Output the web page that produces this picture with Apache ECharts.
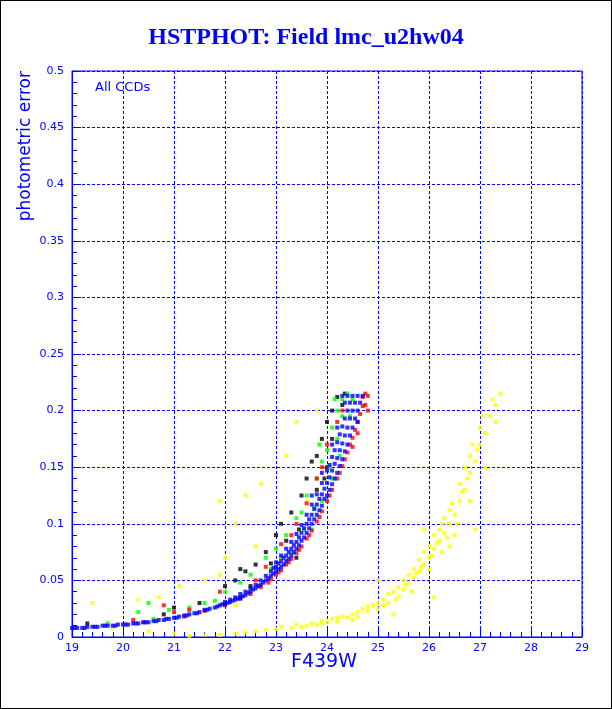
<!DOCTYPE html>
<html>
<head>
<meta charset="utf-8">
<script src="https://cdn.jsdelivr.net/npm/echarts@6/dist/echarts.min.js"></script>
<style>
  html, body { margin: 0; padding: 0; background: #fff; }
  #chart { width: 610px; height: 707px; border: 1px solid #000; }
</style>
</head>
<body>
<div id="chart"></div>
<script>
// Values: [F439W magnitude, photometric error]
const bluePoints = [
  [19.0,0.008],[19.1,0.008],[19.2,0.008],[19.3,0.009],[19.4,0.009],[19.5,0.009],[19.6,0.010],[19.7,0.010],
  [19.8,0.010],[19.9,0.011],[20.0,0.011],[20.1,0.011],[20.2,0.012],[20.3,0.012],[20.4,0.013],[20.5,0.013],
  [20.6,0.014],[20.7,0.015],[20.8,0.015],[20.9,0.016],[21.0,0.017],[21.1,0.018],[21.2,0.019],[21.3,0.020],
  [21.4,0.021],[21.5,0.022],[21.6,0.024],[21.7,0.025],[21.8,0.026],[21.9,0.028],[22.0,0.029],[22.0,0.031],
  [22.1,0.031],[22.1,0.033],[22.2,0.033],[22.2,0.035],[22.3,0.035],[22.3,0.038],[22.4,0.037],[22.4,0.040],
  [22.5,0.040],[22.5,0.043],[22.6,0.043],[22.6,0.046],[22.7,0.046],[22.7,0.050],[22.8,0.050],[22.8,0.054],
  [22.9,0.054],[22.9,0.058],[23.0,0.058],[23.0,0.062],[23.0,0.066],[23.1,0.062],[23.1,0.067],[23.1,0.072],
  [23.2,0.067],[23.2,0.072],[23.2,0.078],[23.3,0.072],[23.3,0.078],[23.3,0.084],[23.4,0.078],[23.4,0.084],
  [23.4,0.091],[23.5,0.085],[23.5,0.092],[23.5,0.099],[23.6,0.092],[23.6,0.100],[23.6,0.108],[23.7,0.100],
  [23.7,0.108],[23.7,0.117],[23.8,0.108],[23.8,0.117],[23.8,0.126],[23.9,0.116],[23.9,0.126],[23.9,0.136],
  [24.0,0.125],[24.0,0.136],[24.0,0.147],[24.1,0.135],[24.1,0.147],[24.1,0.159],[24.2,0.145],[24.2,0.158],
  [24.2,0.172],[24.3,0.157],[24.3,0.171],[24.3,0.186],[24.4,0.170],[24.4,0.185],[24.4,0.200],[24.4,0.213],
  [24.5,0.185],[24.5,0.200],[24.5,0.213],[24.6,0.200],[24.6,0.213],[24.65,0.207],[22.3,0.034],[23.95,0.122],
  [19.05,0.008],[19.25,0.008],[19.45,0.009],[19.65,0.010],[19.85,0.010],[20.05,0.011],[20.25,0.012],[20.45,0.013],
  [20.65,0.014],[20.85,0.016],[21.05,0.017],[21.25,0.019],[21.45,0.021],[21.65,0.024],[21.85,0.027],[21.95,0.029],
  [22.05,0.030],[22.15,0.032],[22.25,0.034],[22.35,0.036],[22.45,0.039],[22.55,0.042],[22.65,0.045],[22.75,0.048],
  [22.85,0.052],[22.95,0.056],[22.95,0.061],[23.05,0.060],[23.05,0.065],[23.15,0.064],[23.15,0.070],[23.25,0.069],
  [23.25,0.075],[23.35,0.075],[23.35,0.081],[23.45,0.081],[23.45,0.088],[23.55,0.088],[23.55,0.096],[23.65,0.096],
  [23.65,0.104],[23.75,0.104],[23.75,0.113],[23.85,0.112],[23.85,0.122],[23.95,0.131],[24.05,0.130],[24.05,0.141],
  [24.05,0.152],[24.15,0.140],[24.15,0.153],[24.15,0.165],[24.25,0.151],[24.25,0.165],[24.25,0.179],[24.35,0.164],
  [24.35,0.178],[24.35,0.193],[24.35,0.207],[24.45,0.178],[24.45,0.193],[24.45,0.207],[24.55,0.193],[24.55,0.207],
  [24.6,0.190],[24.7,0.213],[24.3,0.213],[24.2,0.185],[24.1,0.170],[23.9,0.145],[23.7,0.125]
];

const redPoints = [
  [20.4,0.013],[21.2,0.018],[21.6,0.023],[22.0,0.028],[22.3,0.034],[22.5,0.038],[22.7,0.044],[22.9,0.051],
  [23.0,0.055],[23.1,0.059],[23.2,0.064],[23.3,0.069],[23.4,0.074],[23.5,0.080],[23.6,0.087],[23.7,0.094],
  [23.8,0.102],[23.9,0.111],[24.0,0.120],[24.1,0.130],[24.2,0.140],[24.3,0.151],[24.4,0.163],[24.5,0.176],
  [24.6,0.190],[24.7,0.204],[24.75,0.215],[24.8,0.213],[24.7,0.212],[24.6,0.180],[24.5,0.168],[24.35,0.157],
  [20.8,0.028],[21.3,0.024],[21.9,0.040],[22.6,0.050],[23.1,0.082],[23.4,0.100],[23.8,0.140],[24.2,0.190],
  [24.0,0.170],[23.6,0.118],[23.3,0.090],[22.8,0.062],[24.3,0.200],[23.9,0.150],
  [22.85,0.048],[23.05,0.057],[23.25,0.066],[23.45,0.077],[23.65,0.090],[23.85,0.106],[24.05,0.125],[24.25,0.145],
  [24.45,0.170],[24.65,0.197],[24.55,0.183],[24.75,0.205],[24.8,0.200],[21.0,0.022],[20.2,0.015]
];

const greenPoints = [
  [19.7,0.012],[20.3,0.022],[20.5,0.030],[20.9,0.024],[21.3,0.026],[21.6,0.030],[22.0,0.040],[22.3,0.048],
  [22.5,0.055],[22.8,0.070],[23.0,0.078],[23.2,0.090],[23.3,0.075],[23.5,0.110],[23.6,0.125],[23.7,0.095],
  [23.8,0.140],[23.9,0.155],[24.0,0.165],[24.1,0.185],[24.1,0.140],[24.2,0.200],[24.3,0.210],[24.4,0.215],
  [24.5,0.210],[23.4,0.105],[23.9,0.120],[24.2,0.175],[22.9,0.060],[24.3,0.195],[20.6,0.016],[21.8,0.032],
  [23.1,0.070],[23.55,0.095],[23.75,0.115],[24.05,0.150],[24.25,0.160],[24.45,0.195],[24.15,0.210],[23.85,0.170]
];

const blackPoints = [
  [19.3,0.012],[20.8,0.020],[21.0,0.026],[21.5,0.030],[22.0,0.045],[22.2,0.050],[22.4,0.058],[22.6,0.064],
  [22.8,0.075],[23.0,0.090],[23.1,0.100],[23.3,0.110],[23.5,0.125],[23.6,0.140],[23.7,0.155],[23.8,0.160],
  [23.9,0.175],[24.0,0.190],[24.1,0.200],[24.2,0.212],[24.0,0.150],[23.2,0.085],[23.8,0.130],[24.3,0.205],
  [22.5,0.045],[23.4,0.070],[22.9,0.065],[23.45,0.095],[23.95,0.140],[24.1,0.175],[24.35,0.215],[22.3,0.060]
];

const yellowPoints = [
  [21.3,0.001],[21.6,0.002],[21.9,0.002],[22.2,0.003],[22.4,0.004],[22.6,0.005],[22.8,0.006],[23.0,0.007],
  [23.1,0.009],[23.3,0.008],[23.4,0.011],[23.6,0.010],[23.7,0.012],[23.8,0.011],[23.9,0.014],[24.0,0.013],
  [24.1,0.016],[24.2,0.014],[24.3,0.018],[24.4,0.017],[24.5,0.020],[24.6,0.022],[24.6,0.018],[24.7,0.025],
  [24.8,0.023],[24.9,0.028],[25.0,0.030],[25.0,0.025],[25.1,0.033],[25.2,0.030],[25.2,0.038],[25.3,0.040],
  [25.4,0.036],[25.4,0.044],[25.5,0.042],[25.5,0.050],[25.6,0.048],[25.6,0.055],[25.7,0.052],[25.7,0.060],
  [25.8,0.058],[25.8,0.068],[25.9,0.064],[25.9,0.075],[26.0,0.070],[26.0,0.080],[26.0,0.060],[26.1,0.078],
  [26.1,0.090],[26.2,0.085],[26.2,0.095],[26.3,0.092],[26.3,0.105],[26.4,0.100],[26.4,0.112],[26.5,0.108],
  [26.5,0.090],[26.6,0.120],[26.6,0.135],[26.7,0.130],[26.7,0.150],[26.8,0.145],[26.8,0.160],[26.9,0.155],
  [27.0,0.170],[27.0,0.185],[27.1,0.180],[27.2,0.195],[27.3,0.205],[27.4,0.215],[27.3,0.190],[26.8,0.120],
  [27.1,0.150],[26.4,0.080],[25.9,0.095],[25.0,0.050],[26.9,0.095],[26.1,0.035],[25.3,0.020],
  [23.5,0.009],[23.9,0.012],[24.2,0.017],[24.5,0.015],[24.8,0.027],[25.1,0.028],[25.35,0.033],[25.55,0.046],
  [25.75,0.056],[25.85,0.062],[26.05,0.072],[26.15,0.083],[26.25,0.100],[26.35,0.088],[26.45,0.118],[26.55,0.100],
  [26.65,0.128],[26.75,0.140],[26.85,0.170],[26.95,0.165],[27.05,0.195],[27.25,0.210],[26.25,0.075],[25.65,0.040],
  [19.4,0.030],[19.8,0.008],[20.3,0.033],[20.7,0.035],[21.1,0.045],[21.6,0.050],[21.9,0.055],[21.9,0.120],
  [22.2,0.100],[22.4,0.125],[22.7,0.135],[22.9,0.060],[23.2,0.160],[23.4,0.190],[23.6,0.120],[22.2,0.028],
  [20.5,0.005],[21.0,0.003],[23.8,0.200],[22.0,0.070],[22.6,0.080]
];

const chart = echarts.init(document.getElementById("chart"));
const blue = "#0000ff";
const dot = (name, data, color) => ({
  name, type: "scatter", data, symbol: "rect", symbolSize: 4,
  itemStyle: { color }, silent: true, animation: false
});

chart.setOption({
  animation: false,
  title: {
    text: "HSTPHOT: Field lmc_u2hw04",
    left: "center", top: 20,
    textStyle: { color: blue, fontFamily: "Liberation Serif", fontWeight: "bold", fontSize: 24 }
  },
  grid: { left: 71, right: 29, top: 70, bottom: 71, show: true, borderColor: blue, borderWidth: 1 },
  xAxis: {
    type: "value", min: 19, max: 29, interval: 1,
    axisLine: { onZero: false, lineStyle: { color: blue } },
    axisTick: { inside: true, length: 9, lineStyle: { color: blue } },
    minorTick: { show: true, splitNumber: 5, length: 5, lineStyle: { color: blue } },
    splitLine: { lineStyle: { color: blue, type: [3, 2] } },
    axisLabel: { color: blue, fontFamily: "DejaVu Sans", fontSize: 11, margin: 6 }
  },
  yAxis: {
    type: "value", min: 0, max: 0.5, interval: 0.05,
    axisLine: { onZero: false, lineStyle: { color: blue } },
    axisTick: { inside: true, length: 9, lineStyle: { color: blue } },
    minorTick: { show: true, splitNumber: 5, length: 5, lineStyle: { color: blue } },
    splitLine: { lineStyle: { color: blue, type: [3, 2] } },
    axisLabel: { color: blue, fontFamily: "DejaVu Sans", fontSize: 11, margin: 8 }
  },
  graphic: [
    { type: "text", left: 94, top: 80, style: { text: "All CCDs", fill: blue, font: "13px 'DejaVu Sans'" } },
    { type: "text", x: 16, y: 70, rotation: Math.PI / 2,
      style: { text: "photometric error", fill: blue, font: "17px 'DejaVu Sans'", align: "right", verticalAlign: "top" } },
    { type: "text", left: 290, top: 652, style: { text: "F439W", fill: blue, font: "19px 'DejaVu Sans'" } }
  ],
  series: [
    dot("yellow", yellowPoints, "#ffff00"),
    dot("black", blackPoints, "#000000"),
    dot("green", greenPoints, "#00ff00"),
    dot("red", redPoints, "#ff0000"),
    dot("blue", bluePoints, blue)
  ]
});
</script>
</body>
</html>
